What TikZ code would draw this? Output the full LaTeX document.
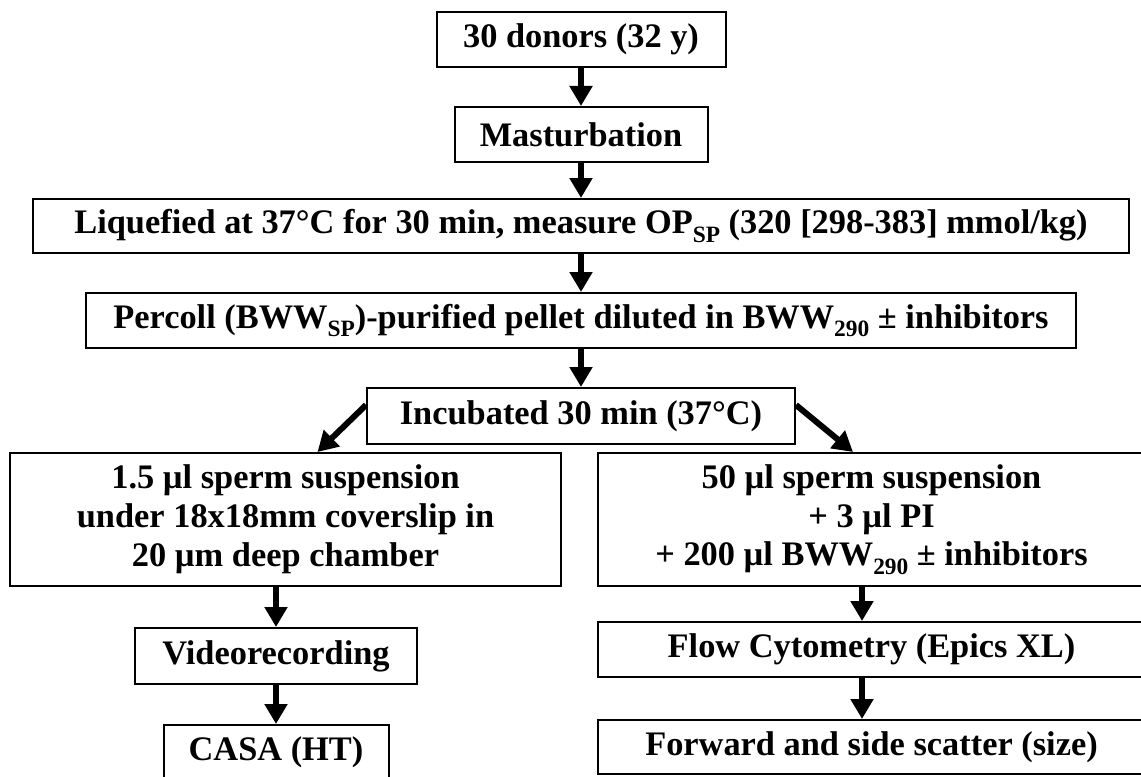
\documentclass[tikz,border=0pt]{standalone}
\usepackage{fontspec}
\setmainfont{Liberation Serif}
\usetikzlibrary{arrows.meta}
\newcommand{\lowsub}[1]{\raisebox{-0.25em}{\fontsize{23.5}{23.5}\selectfont #1}}

\begin{document}
\begin{tikzpicture}[x=1bp,y=-1bp,
		box/.style={draw,line width=2bp,inner sep=0,align=center,font=\bfseries\fontsize{34.5}{39}\selectfont},
		link/.style={line width=6bp,-{Triangle[width=22bp,length=20bp]}}]
		\useasboundingbox (0,0) rectangle (1141,777);
		\node[box,minimum width=289bp,minimum height=55bp] (donors) at (581,39.5) {30 donors (32 y)};
		\node[box,minimum width=253bp,minimum height=55bp] (mast) at (581,134.5) {Masturbation};
		\node[box,minimum width=1096bp,minimum height=54bp] (liq) at (581,226) {Liquefied at 37°C for 30 min, measure OP\lowsub{SP} (320 [298-383] mmol/kg)};
		\node[box,minimum width=990bp,minimum height=55bp] (percoll) at (581,320.5) {Percoll (BWW\lowsub{SP})-purified pellet diluted in BWW\lowsub{290} ± inhibitors};
		\node[box,minimum width=428bp,minimum height=56bp] (incub) at (581,416) {Incubated 30 min (37°C)};
		\node[box,minimum width=551bp,minimum height=133bp] (casaprep) at (285.5,519.5) {1.5 µl sperm suspension\\under 18x18mm coverslip in\\20 µm deep chamber};
		\node[box,minimum width=547bp,minimum height=133bp] (flowprep) at (871.5,519.5) {50 µl sperm suspension\\+ 3 µl PI\\+ 200 µl BWW\lowsub{290} ± inhibitors};
		\node[box,minimum width=281bp,minimum height=56bp] (video) at (276,656) {Videorecording};
		\node[box,minimum width=225bp,minimum height=55bp] (casa) at (276,752.5) {CASA (HT)};
		\node[box,minimum width=547bp,minimum height=55bp] (flow) at (871.5,649.5) {Flow Cytometry (Epics XL)};
		\node[box,minimum width=547bp,minimum height=54bp] (scatter) at (871.5,747) {Forward and side scatter (size)};
		\draw[link] (donors) -- (mast);
		\draw[link] (mast) -- (liq);
		\draw[link] (liq) -- (percoll);
		\draw[link] (percoll) -- (incub);
		\draw[link] ([yshift=11bp]incub.west) -- ([xshift=32bp]casaprep.north);
		\draw[link] ([yshift=11bp]incub.east) -- ([xshift=-18.5bp]flowprep.north);
		\draw[link] (video.north |- casaprep.south) -- (video.north);
		\draw[link] (video) -- (casa);
		\draw[link] ([xshift=-9.5bp]flowprep.south) -- ([xshift=-9.5bp]flow.north);
		\draw[link] ([xshift=-9.5bp]flow.south) -- ([xshift=-9.5bp]scatter.north);
\end{tikzpicture}
\end{document}
